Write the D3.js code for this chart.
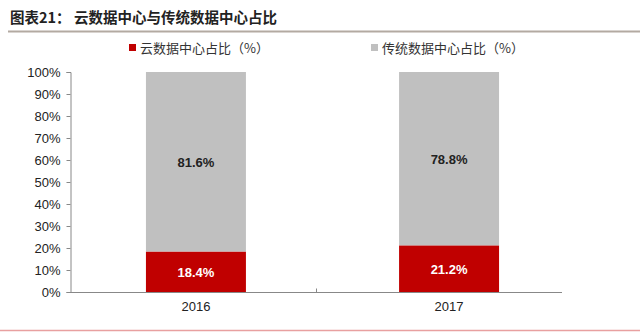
<!DOCTYPE html>
<html lang="zh">
  <head>
    <meta charset="UTF-8" />
    <title>云数据中心与传统数据中心占比</title>
    <style>
      body {
        margin: 0;
        background: #fff;
      }
      svg {
        display: block;
      }
      .tick text {
        font-family: "Liberation Sans", Arial, sans-serif;
        font-size: 13px;
        fill: #222;
      }
    </style>
  </head>
  <body>
    <script src="https://cdn.jsdelivr.net/npm/d3@7"></script>
    <script>
      var years = ["2016", "2017"];
      var cloudShare = [18.4, 21.2];
      var legacyShare = [81.6, 78.8];
      var yTicks = [0, 10, 20, 30, 40, 50, 60, 70, 80, 90, 100];
      var seriesNames = ["云数据中心占比（%）", "传统数据中心占比（%）"];
      var seriesColors = ["#c00000", "#c0c0c0"];

      var width = 640, height = 333;
      var cjk = '"Noto Sans CJK SC", sans-serif';
      var axisLeft = 70, axisRight = 562;

      var svg = d3.select("body").append("svg")
        .attr("width", width)
        .attr("height", height);

      // title + rule under it
      svg.append("text")
        .attr("x", 10)
        .attr("y", 23)
        .style("font-family", cjk)
        .style("font-size", "14.5px")
        .style("font-weight", "bold")
        .style("fill", "#222")
        .text("图表21：  云数据中心与传统数据中心占比");
      svg.append("line")
        .attr("x1", 8).attr("x2", 640)
        .attr("y1", 31.5).attr("y2", 31.5)
        .style("stroke", "#b3aaa2")
        .style("stroke-width", 2);

      // legend
      var legendX = [129, 371];
      seriesNames.forEach(function(name, i) {
        svg.append("rect")
          .attr("x", legendX[i]).attr("y", 44)
          .attr("width", 7).attr("height", 7)
          .style("fill", seriesColors[i]);
        svg.append("text")
          .attr("x", legendX[i] + 11).attr("y", 52.5)
          .style("font-family", cjk)
          .style("font-size", "13px")
          .style("fill", "#333")
          .text(name);
      });

      var x = d3.scaleBand()
        .domain(years)
        .range([axisLeft, 575])
        .paddingInner(0.605)
        .paddingOuter(0.3);

      var y = d3.scaleLinear()
        .domain([0, 100])
        .range([292, 72]);

      // y axis
      var yAxis = svg.append("g")
        .attr("transform", "translate(70.5,0)")
        .call(d3.axisLeft(y).tickValues(yTicks).tickSize(4).tickPadding(6)
          .tickFormat(function(d) { return d + "%"; }));
      yAxis.selectAll("line, path").style("stroke", "#888");

      // x axis with a tick between categories
      var xAxis = svg.append("g")
        .attr("transform", "translate(0,292.5)")
        .call(d3.axisBottom(x).tickSize(0).tickPadding(9));
      xAxis.select("path").remove();
      xAxis.append("line")
        .attr("x1", axisLeft).attr("x2", axisRight)
        .style("stroke", "#888");
      var mid = Math.round((axisLeft + axisRight) / 2) + 0.5;
      xAxis.append("line")
        .attr("x1", mid).attr("x2", mid)
        .attr("y1", 0).attr("y2", -4)
        .style("stroke", "#888");

      var rows = years.map(function(yr, i) {
        return { year: yr, cloud: cloudShare[i], legacy: legacyShare[i] };
      });

      // red part
      svg.selectAll("rect.cloud")
        .data(rows)
        .enter().append("rect")
        .attr("class", "cloud")
        .attr("x", function(d) { return x(d.year); })
        .attr("width", x.bandwidth())
        .attr("y", function(d) { return y(d.cloud); })
        .attr("height", function(d) { return y(0) - y(d.cloud); })
        .style("fill", seriesColors[0]);

      // gray part on top
      svg.selectAll("rect.legacy")
        .data(rows)
        .enter().append("rect")
        .attr("class", "legacy")
        .attr("x", function(d) { return x(d.year); })
        .attr("width", x.bandwidth())
        .attr("y", function(d) { return y(d.cloud + d.legacy); })
        .attr("height", function(d) { return y(d.cloud) - y(d.cloud + d.legacy); })
        .style("fill", seriesColors[1]);

      // value labels
      svg.selectAll("text.cloudLbl")
        .data(rows)
        .enter().append("text")
        .attr("x", function(d) { return x(d.year) + x.bandwidth() / 2; })
        .attr("y", function(d) { return y(d.cloud / 2) + 5; })
        .attr("text-anchor", "middle")
        .style("font-family", '"Liberation Sans", Arial, sans-serif')
        .style("font-size", "13px")
        .style("font-weight", "bold")
        .style("fill", "#fff")
        .text(function(d) { return d.cloud.toFixed(1) + "%"; });

      svg.selectAll("text.legacyLbl")
        .data(rows)
        .enter().append("text")
        .attr("x", function(d) { return x(d.year) + x.bandwidth() / 2; })
        .attr("y", function(d) { return y(d.cloud + d.legacy / 2) + 5; })
        .attr("text-anchor", "middle")
        .style("font-family", '"Liberation Sans", Arial, sans-serif')
        .style("font-size", "13px")
        .style("font-weight", "bold")
        .style("fill", "#222")
        .text(function(d) { return d.legacy.toFixed(1) + "%"; });

      // bottom rule
      svg.append("line")
        .attr("x1", 0).attr("x2", 640)
        .attr("y1", 330.5).attr("y2", 330.5)
        .style("stroke", "#e8a0a0")
        .style("stroke-width", 1.5);
    </script>
  </body>
</html>
